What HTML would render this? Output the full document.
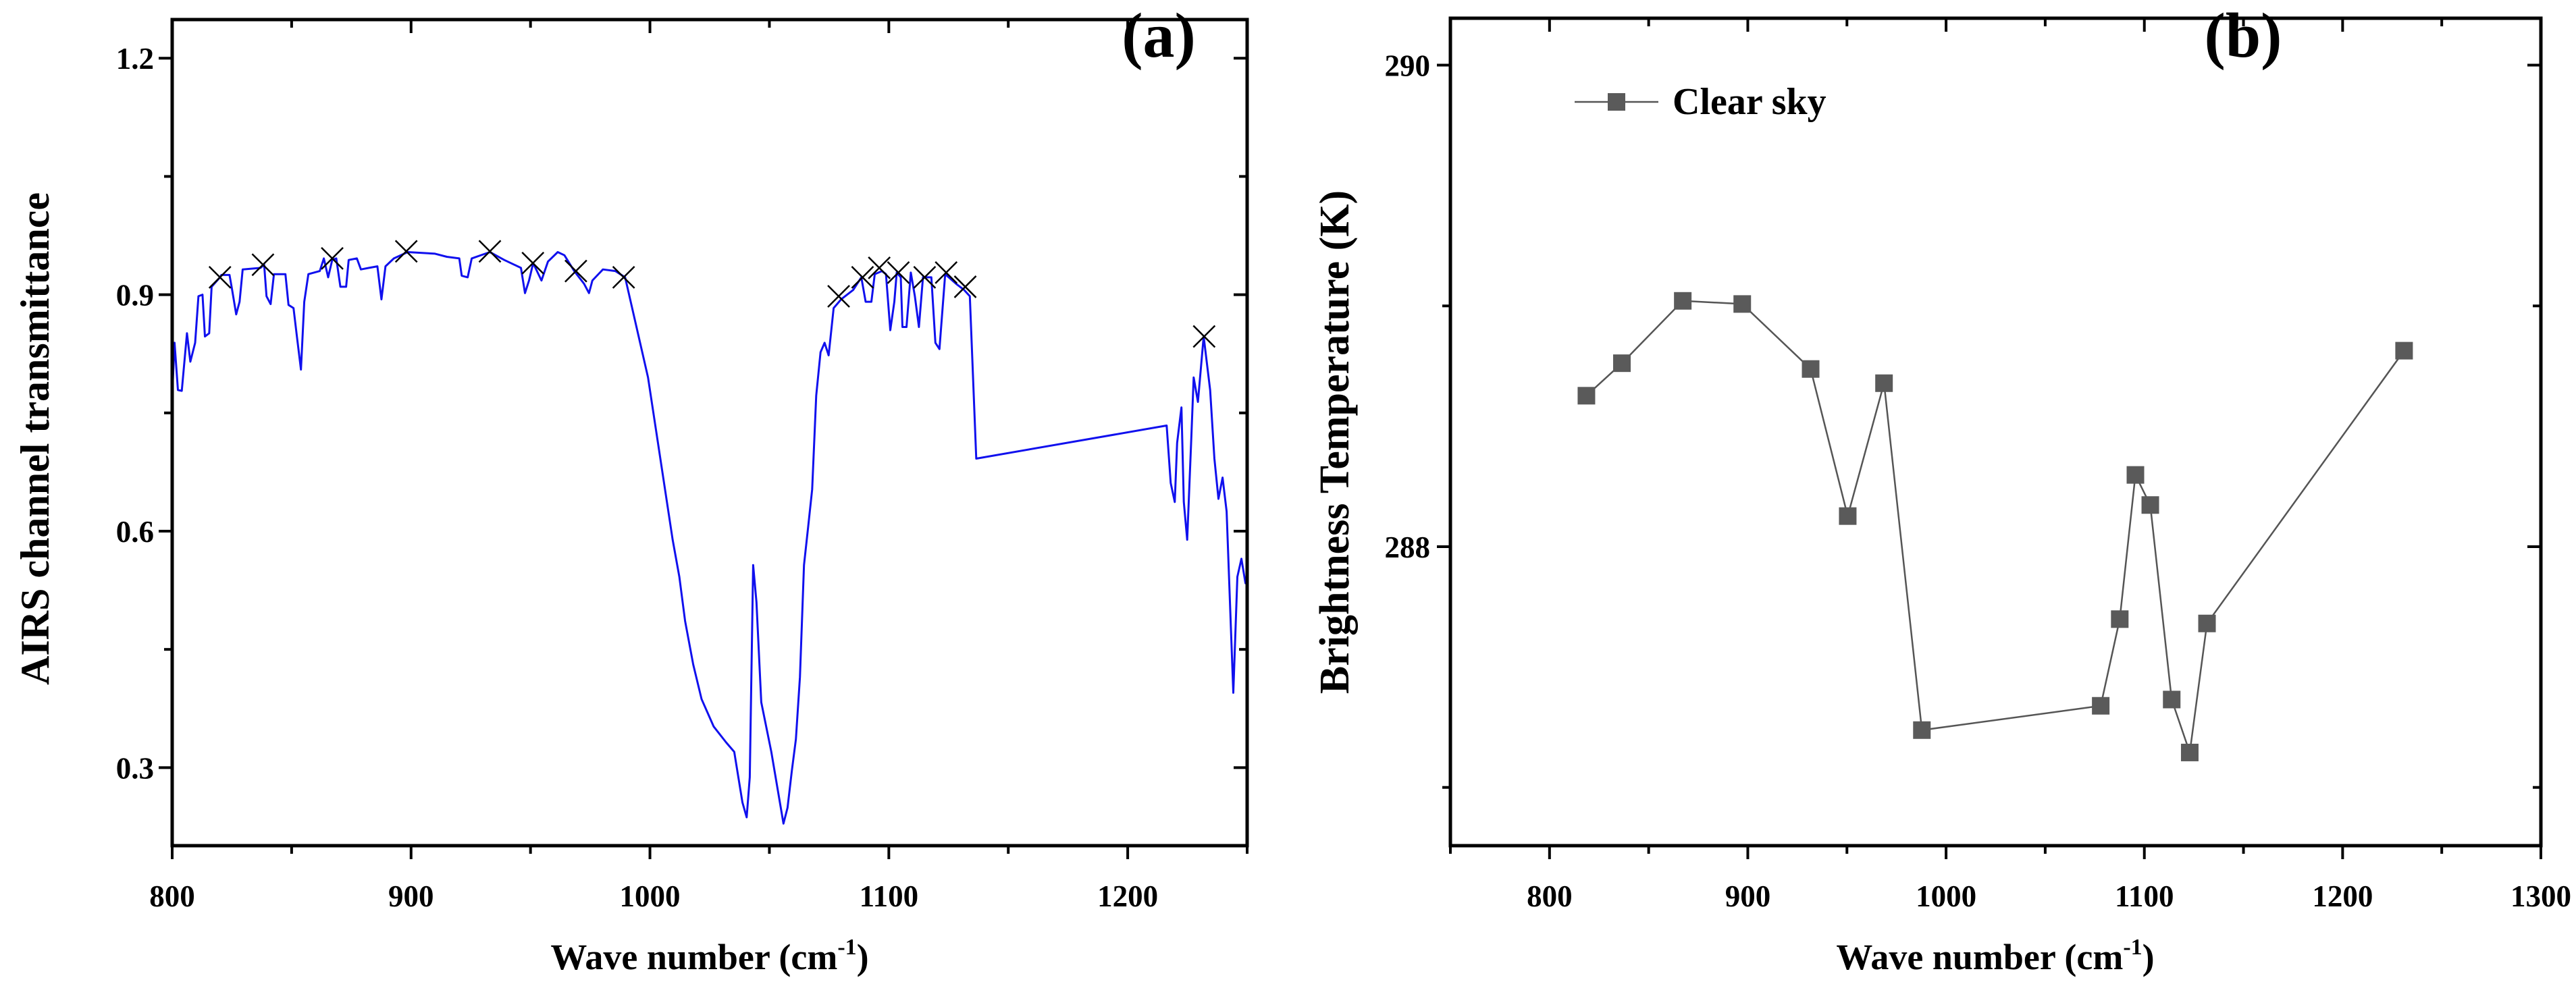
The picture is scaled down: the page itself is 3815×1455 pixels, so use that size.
<!DOCTYPE html>
<html><head><meta charset="utf-8">
<style>
html,body{margin:0;padding:0;background:#fff;}
svg{display:block;font-family:"Liberation Serif",serif;font-weight:bold;}
</style></head>
<body>
<svg id="fig" width="3815" height="1455" viewBox="0 0 3815 1455" xmlns="http://www.w3.org/2000/svg">
<g id="pa"></g>
<g id="pb"></g>
</svg>
<script>
// ---- Panel (a) data ----
const specWn = [800,801,802.4,804,806.2,807.6,809.6,811,812.7,813.7,815.5,816.5,820,820.6,824,825,826.8,828.2,829.5,837,838.5,839.5,841.2,842.6,847.4,848.7,850.8,852.2,853.9,855.3,857,861.8,863.5,865.3,867,868.7,870.4,872.8,873.9,877.3,879,882.4,885.9,887.6,889.3,892.8,898.6,910,915,920.2,921.2,923.7,925.4,933,939,946,947.7,949.4,951.1,954.6,957.3,961.4,964.2,968.3,972.4,974.5,975.9,980.3,985.5,989.6,999.2,1009.5,1012.3,1014.7,1018.1,1021.6,1026.7,1031.9,1035.3,1038.7,1040.5,1041.8,1043.2,1044.6,1046.6,1050.8,1055.9,1057.6,1059.4,1061.1,1062.8,1064.5,1066.2,1067.9,1069.6,1071.4,1073.1,1074.8,1076.9,1080,1085.1,1088.5,1090.3,1092.7,1094.1,1097.1,1098.8,1100.6,1102.3,1103.3,1105,1105.7,1107.4,1109.2,1110.9,1112.6,1114.3,1117.8,1119.5,1121.2,1123.6,1128.1,1131.5,1133.9,1136.6,1216.3,1218,1219.7,1220.7,1222.5,1223.5,1224.9,1226.6,1227.6,1229.4,1231.8,1234.5,1236.3,1238,1239.7,1241.4,1243.2,1244.2,1245.9,1247.6,1249.3,1250];
const specVal = [0.772,0.839,0.779,0.778,0.851,0.815,0.839,0.898,0.9,0.847,0.851,0.910,0.922,0.925,0.925,0.908,0.875,0.891,0.932,0.934,0.938,0.898,0.888,0.926,0.926,0.887,0.883,0.847,0.805,0.891,0.926,0.930,0.946,0.922,0.944,0.946,0.910,0.910,0.944,0.946,0.932,0.934,0.936,0.894,0.936,0.946,0.954,0.952,0.948,0.946,0.924,0.922,0.946,0.954,0.944,0.934,0.902,0.918,0.940,0.918,0.942,0.954,0.950,0.930,0.914,0.902,0.918,0.932,0.930,0.922,0.795,0.589,0.542,0.486,0.431,0.387,0.352,0.332,0.320,0.256,0.237,0.288,0.557,0.510,0.383,0.320,0.229,0.249,0.296,0.336,0.415,0.557,0.605,0.653,0.772,0.827,0.839,0.823,0.883,0.894,0.906,0.922,0.891,0.891,0.926,0.930,0.926,0.855,0.891,0.928,0.922,0.859,0.859,0.928,0.898,0.859,0.922,0.922,0.839,0.831,0.926,0.914,0.906,0.898,0.692,0.734,0.661,0.637,0.712,0.757,0.637,0.589,0.716,0.795,0.764,0.847,0.779,0.692,0.641,0.668,0.625,0.478,0.395,0.542,0.565,0.534,0.542];
const markWn = [820,838,867,898,933,951,969,989,1079,1089,1096,1104,1115,1124,1132,1232];
const markVal = [0.922,0.938,0.946,0.955,0.955,0.940,0.930,0.922,0.898,0.922,0.934,0.928,0.922,0.928,0.910,0.847];
const aXTicks = [800,900,1000,1100,1200];
const aYTicks = [0.3,0.6,0.9,1.2];
// ---- Panel (b) data ----
const bWn = [818.6,836.5,867.2,897.2,931.7,950.4,968.7,987.8,1078,1087.6,1095.5,1103,1113.8,1122.9,1131.6,1231];
const bTemp = [288.627,288.762,289.021,289.008,288.738,288.127,288.679,287.238,287.339,287.699,288.298,288.173,287.365,287.145,287.681,288.814];
const bXTicks = [800,900,1000,1100,1200,1300];
const bYTicks = [288,290];

const NS="http://www.w3.org/2000/svg";
function mk(parent,tag,attrs,text){const e=document.createElementNS(NS,tag);for(const k in attrs)e.setAttribute(k,attrs[k]);if(text!==undefined)e.textContent=text;parent.appendChild(e);return e;}

const A={l:255,r:1847,t:29,b:1253,x0:800,x1:1250,y0:0.201,y1:1.249};
const ax=v=>A.l+(v-A.x0)/(A.x1-A.x0)*(A.r-A.l);
const ay=v=>A.b-(v-A.y0)/(A.y1-A.y0)*(A.b-A.t);
const pa=document.getElementById('pa');

let d='';
for(let i=0;i<specWn.length;i++){d+=(i?'L':'M')+ax(specWn[i]).toFixed(1)+' '+ay(specVal[i]).toFixed(1);}
const sp=mk(pa,'path',{d:d,fill:'none',stroke:'#1010ee','stroke-width':3,'stroke-linejoin':'round'});


for(let i=0;i<markWn.length;i++){
  const x=ax(markWn[i]),y=ay(markVal[i]),s=16;
  const m=mk(pa,'path',{d:`M${x-s} ${y-s}L${x+s} ${y+s}M${x-s} ${y+s}L${x+s} ${y-s}`,stroke:'#000','stroke-width':2.5,fill:'none'});
  
  
}
const fa=mk(pa,'rect',{x:A.l,y:A.t,width:A.r-A.l,height:A.b-A.t,fill:'none',stroke:'#000','stroke-width':5});


for(let v=800;v<=1250;v+=50){
  const x=ax(v),L=(v%100===0)?20:12;
  mk(pa,'line',{x1:x,x2:x,y1:A.b,y2:A.b+L,stroke:'#000','stroke-width':4});
  mk(pa,'line',{x1:x,x2:x,y1:A.t,y2:A.t+L,stroke:'#000','stroke-width':4});
}
for(let v=0.3;v<=1.21;v+=0.15){
  const y=ay(v),maj=Math.abs((v/0.3)-Math.round(v/0.3))<0.01,L=maj?20:12;
  mk(pa,'line',{x1:A.l-L,x2:A.l,y1:y,y2:y,stroke:'#000','stroke-width':4});
  mk(pa,'line',{x1:A.r-L,x2:A.r,y1:y,y2:y,stroke:'#000','stroke-width':4});
}
aXTicks.forEach(v=>{const t=mk(pa,'text',{x:ax(v),y:1343,'font-size':45,'text-anchor':'middle'},String(v));

});
aYTicks.forEach(v=>{const t=mk(pa,'text',{x:228,y:ay(v)+16,'font-size':45,'text-anchor':'end'},v.toFixed(1));

});
const xta=mk(pa,'text',{x:1051,y:1436,'font-size':54,'text-anchor':'middle'});
xta.innerHTML='Wave number (cm<tspan dy="-22" font-size="34">-1</tspan><tspan dy="22">)</tspan>';


const yta=mk(pa,'text',{x:0,y:0,'font-size':60,'text-anchor':'middle',transform:'translate(72 650) rotate(-90)'},'AIRS channel transmittance');


const la=mk(pa,'text',{x:1716,y:84,'font-size':94,'text-anchor':'middle'},'(a)');



const B={l:2148,r:3763,t:27,b:1253,x0:750,x1:1300,y0:286.758,y1:290.195};
const bx=v=>B.l+(v-B.x0)/(B.x1-B.x0)*(B.r-B.l);
const by=v=>B.b-(v-B.y0)/(B.y1-B.y0)*(B.b-B.t);
const pb=document.getElementById('pb');
let d2='';
for(let i=0;i<bWn.length;i++){d2+=(i?'L':'M')+bx(bWn[i]).toFixed(1)+' '+by(bTemp[i]).toFixed(1);}
const bl=mk(pb,'path',{d:d2,fill:'none',stroke:'#555','stroke-width':2.5});


for(let i=0;i<bWn.length;i++){
  const r=mk(pb,'rect',{x:bx(bWn[i])-13,y:by(bTemp[i])-13,width:26,height:26,fill:'#5a5a5a'});
  
  
}
const fb=mk(pb,'rect',{x:B.l,y:B.t,width:B.r-B.l,height:B.b-B.t,fill:'none',stroke:'#000','stroke-width':5});


for(let v=750;v<=1300;v+=50){
  const x=bx(v),L=(v%100===0)?20:12;
  mk(pb,'line',{x1:x,x2:x,y1:B.b,y2:B.b+L,stroke:'#000','stroke-width':4});
  mk(pb,'line',{x1:x,x2:x,y1:B.t,y2:B.t+L,stroke:'#000','stroke-width':4});
}
for(let v=287;v<=290;v+=1){
  const y=by(v),L=(v%2===0)?20:12;
  mk(pb,'line',{x1:B.l-L,x2:B.l,y1:y,y2:y,stroke:'#000','stroke-width':4});
  mk(pb,'line',{x1:B.r-L,x2:B.r,y1:y,y2:y,stroke:'#000','stroke-width':4});
}
bXTicks.forEach(v=>{const t=mk(pb,'text',{x:bx(v),y:1343,'font-size':45,'text-anchor':'middle'},String(v));

});
bYTicks.forEach(v=>{const t=mk(pb,'text',{x:2118,y:by(v)+16,'font-size':45,'text-anchor':'end'},String(v));

});
const xtb=mk(pb,'text',{x:2955,y:1436,'font-size':54,'text-anchor':'middle'});
xtb.innerHTML='Wave number (cm<tspan dy="-22" font-size="34">-1</tspan><tspan dy="22">)</tspan>';


const ytb=mk(pb,'text',{x:0,y:0,'font-size':62,'text-anchor':'middle',transform:'translate(1997 655) rotate(-90)'},'Brightness Temperature (K)');


const lb=mk(pb,'text',{x:3322,y:84,'font-size':94,'text-anchor':'middle'},'(b)');


const lg=mk(pb,'g',{});


mk(lg,'line',{x1:2332,x2:2456,y1:151,y2:151,stroke:'#555','stroke-width':2.5});
mk(lg,'rect',{x:2381,y:138,width:26,height:26,fill:'#5a5a5a'});
mk(lg,'text',{x:2477,y:169,'font-size':56},'Clear sky');
</script>
</body></html>
